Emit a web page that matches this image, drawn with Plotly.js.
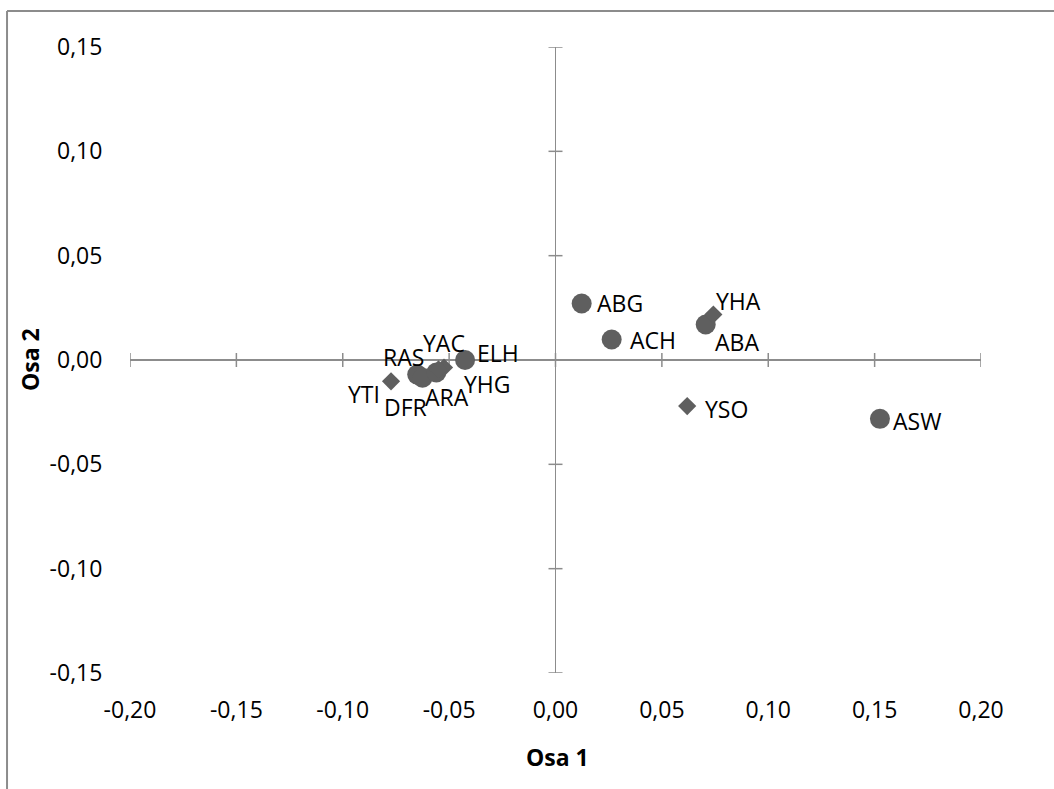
<!DOCTYPE html>
<html>
<head>
<meta charset="utf-8">
<script src="https://cdn.plot.ly/plotly-3.0.1.min.js"></script>
<style>
  html, body { margin: 0; padding: 0; background: #fff; }
  #chart { width: 1054px; height: 789px; }
</style>
</head>
<body>
<div id="chart"></div>
<script>
// ---- data ----
const circleNames = ['ABG', 'ACH', 'ABA', 'ASW', 'ELH', 'RAS', 'DFR', 'ARA'];
const circleX = [0.0123, 0.0264, 0.0706, 0.1525, -0.0425, -0.0650, -0.0625, -0.0560];
const circleY = [0.0271, 0.0098, 0.0170, -0.0282, 0.0000, -0.0070, -0.0085, -0.0060];

const diamondNames = ['YHA', 'YSO', 'YTI', 'YAC', 'YHG'];
const diamondX = [0.0742, 0.0619, -0.0773, -0.0524, -0.0550];
const diamondY = [0.0218, -0.0221, -0.0102, -0.0036, -0.0045];

const xTickVals = [-0.20, -0.15, -0.10, -0.05, 0.00, 0.05, 0.10, 0.15, 0.20];
const xTickText = ['-0,20', '-0,15', '-0,10', '-0,05', '0,00', '0,05', '0,10', '0,15', '0,20'];
const yTickVals = [-0.15, -0.10, -0.05, 0.00, 0.05, 0.10, 0.15];
const yTickText = ['-0,15', '-0,10', '-0,05', '0,00', '0,05', '0,10', '0,15'];

const xTitle = 'Osa 1';
const yTitle = 'Osa 2';

// ---- label placement (pixel offsets from each point) ----
const labelOffsets = {
  ABG: { dx: 13, dy: 0, anchor: 'left' },
  ACH: { dx: 16, dy: 0, anchor: 'left' },
  ABA: { dx: 7, dy: -17, anchor: 'left' },
  ASW: { dx: 11, dy: -2, anchor: 'left' },
  ELH: { dx: 10, dy: 7, anchor: 'left' },
  RAS: { dx: -36, dy: 18, anchor: 'left' },
  DFR: { dx: -41, dy: -29, anchor: 'left' },
  ARA: { dx: -13, dy: -24, anchor: 'left' },
  YHA: { dx: 1, dy: 14, anchor: 'left' },
  YSO: { dx: 16, dy: -3, anchor: 'left' },
  YTI: { dx: -9, dy: -13, anchor: 'right' },
  YAC: { dx: -23, dy: 25, anchor: 'left' },
  YHG: { dx: 24, dy: -15, anchor: 'left' }
};

const FONT = 'Open Sans, sans-serif';
const FS = 23;
const markerColor = '#5f5f5f';
const axisColor = '#8c8c8c';

const traces = [
  {
    type: 'scatter', mode: 'markers', x: circleX, y: circleY, text: circleNames,
    marker: { symbol: 'circle', size: 20, color: markerColor },
    showlegend: false, hoverinfo: 'skip'
  },
  {
    type: 'scatter', mode: 'markers', x: diamondX, y: diamondY, text: diamondNames,
    marker: { symbol: 'diamond', size: 14, color: markerColor },
    showlegend: false, hoverinfo: 'skip'
  }
];

const annotations = [];
function addLabels(names, xs, ys) {
  names.forEach((n, i) => {
    const o = labelOffsets[n];
    annotations.push({
      x: xs[i], y: ys[i], xref: 'x', yref: 'y', text: n, showarrow: false,
      xanchor: o.anchor, yanchor: 'middle', xshift: o.dx, yshift: o.dy,
      font: { family: FONT, size: FS, color: '#000' }
    });
  });
}
addLabels(circleNames, circleX, circleY);
addLabels(diamondNames, diamondX, diamondY);

// axis titles
annotations.push({
  xref: 'paper', yref: 'paper', x: 0.502, y: -0.1342, text: '<b>' + xTitle + '</b>',
  showarrow: false, xanchor: 'center', yanchor: 'middle',
  font: { family: FONT, size: FS, color: '#000' }
});
annotations.push({
  xref: 'paper', yref: 'paper', x: -0.1175, y: 0.5, text: '<b>' + yTitle + '</b>',
  showarrow: false, xanchor: 'center', yanchor: 'middle', textangle: -90,
  font: { family: FONT, size: FS, color: '#000' }
});

// crossing tick marks on the axes through zero
const shapes = [];
xTickVals.forEach(v => {
  shapes.push({
    type: 'line', xref: 'x', yref: 'y', x0: v, x1: v,
    ysizemode: 'pixel', yanchor: 0, y0: -7, y1: 7,
    line: { color: axisColor, width: 1.5 }, layer: 'below'
  });
});
yTickVals.forEach(v => {
  shapes.push({
    type: 'line', xref: 'x', yref: 'y', y0: v, y1: v,
    xsizemode: 'pixel', xanchor: 0, x0: -7, x1: 7,
    line: { color: axisColor, width: 1.5 }, layer: 'below'
  });
});
// outer chart border (top and left visible)
shapes.push({ type: 'line', xref: 'paper', yref: 'paper', x0: -0.1445, x1: 1.2, y0: 1.0575, y1: 1.0575,
  line: { color: axisColor, width: 2 } });
shapes.push({ type: 'line', xref: 'paper', yref: 'paper', x0: -0.1445, x1: -0.1445, y0: 1.0575, y1: -0.3,
  line: { color: axisColor, width: 2 } });

const layout = {
  width: 1054, height: 789,
  margin: { l: 130, r: 73, t: 47, b: 116 },
  paper_bgcolor: '#fff', plot_bgcolor: '#fff',
  font: { family: FONT, size: FS, color: '#000' },
  xaxis: {
    range: [-0.2, 0.2], tickvals: xTickVals, ticktext: xTickText,
    showgrid: false, showline: false,
    zeroline: true, zerolinecolor: axisColor, zerolinewidth: 1.5,
    ticks: 'outside', ticklen: 16, tickcolor: 'rgba(0,0,0,0)',
    tickfont: { family: FONT, size: FS, color: '#000' },
    automargin: false
  },
  yaxis: {
    range: [-0.15, 0.15], tickvals: yTickVals, ticktext: yTickText,
    showgrid: false, showline: false,
    zeroline: true, zerolinecolor: axisColor, zerolinewidth: 1.5,
    ticks: 'outside', ticklen: 22, tickcolor: 'rgba(0,0,0,0)',
    tickfont: { family: FONT, size: FS, color: '#000' },
    automargin: false
  },
  shapes: shapes,
  annotations: annotations
};

Plotly.newPlot('chart', traces, layout, { staticPlot: true, displayModeBar: false });
</script>
</body>
</html>
